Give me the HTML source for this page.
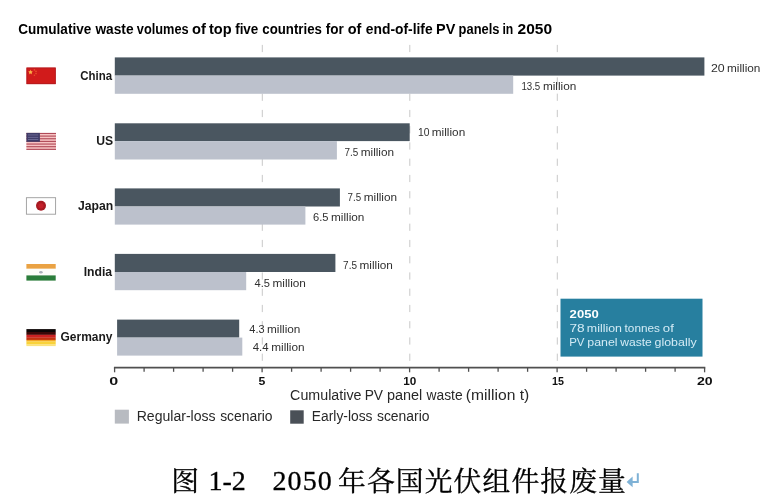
<!DOCTYPE html>
<html>
<head>
<meta charset="utf-8">
<title>图 1-2 2050 年各国光伏组件报废量</title>
<style>
html,body{margin:0;padding:0;background:#fff;}
body{width:772px;height:504px;overflow:hidden;}
svg{display:block;}
.s{font-family:"Liberation Sans",sans-serif;}
.b{font-weight:bold;}
.v{font-size:11.5px;fill:#303030;}
.c{font-size:13.5px;font-weight:bold;fill:#1a1a1a;}
.t{font-size:10.5px;font-weight:bold;fill:#111;}
.cap{font-family:"Liberation Serif","Noto Serif CJK SC",serif;font-size:28.9px;fill:#000;stroke:#000;stroke-width:0.3px;}
</style>
</head>
<body>
<svg width="772" height="504" viewBox="0 0 772 504">
<rect width="772" height="504" fill="#ffffff"/>

<!-- title -->
<g class="s">
<text x="18.17" y="34.3" font-size="14" font-weight="bold" fill="#000" textLength="73.10" lengthAdjust="spacingAndGlyphs">Cumulative</text>
<text x="95.41" y="34.3" font-size="14" font-weight="bold" fill="#000" textLength="38.17" lengthAdjust="spacingAndGlyphs">waste</text>
<text x="136.87" y="34.3" font-size="14" font-weight="bold" fill="#000" textLength="51.81" lengthAdjust="spacingAndGlyphs">volumes</text>
<text x="191.95" y="34.3" font-size="14" font-weight="bold" fill="#000" textLength="13.88" lengthAdjust="spacingAndGlyphs">of</text>
<text x="209.00" y="34.3" font-size="14" font-weight="bold" fill="#000" textLength="22.61" lengthAdjust="spacingAndGlyphs">top</text>
<text x="235.16" y="34.3" font-size="14" font-weight="bold" fill="#000" textLength="23.17" lengthAdjust="spacingAndGlyphs">five</text>
<text x="262.32" y="34.3" font-size="14" font-weight="bold" fill="#000" textLength="59.54" lengthAdjust="spacingAndGlyphs">countries</text>
<text x="325.75" y="34.3" font-size="14" font-weight="bold" fill="#000" textLength="18.05" lengthAdjust="spacingAndGlyphs">for</text>
<text x="347.76" y="34.3" font-size="14" font-weight="bold" fill="#000" textLength="13.67" lengthAdjust="spacingAndGlyphs">of</text>
<text x="365.79" y="34.3" font-size="14" font-weight="bold" fill="#000" textLength="66.88" lengthAdjust="spacingAndGlyphs">end-of-life</text>
<text x="436.13" y="34.3" font-size="14" font-weight="bold" fill="#000" textLength="19.25" lengthAdjust="spacingAndGlyphs">PV</text>
<text x="458.58" y="34.3" font-size="14" font-weight="bold" fill="#000" textLength="40.86" lengthAdjust="spacingAndGlyphs">panels</text>
<text x="502.43" y="34.3" font-size="14" font-weight="bold" fill="#000" textLength="10.85" lengthAdjust="spacingAndGlyphs">in</text>
<text x="517.55" y="34.3" font-size="14" font-weight="bold" fill="#000" textLength="34.57" lengthAdjust="spacingAndGlyphs">2050</text>
</g>

<!-- gridlines -->
<g stroke="#c8c8c8" stroke-width="1" stroke-dasharray="7.2 9.05" fill="none">
<line x1="262.3" y1="44.9" x2="262.3" y2="367"/>
<line x1="409.8" y1="44.9" x2="409.8" y2="367"/>
<line x1="557.3" y1="44.9" x2="557.3" y2="367"/>
</g>

<!-- bars -->
<g>
<rect x="114.8" y="57.4" width="589.6" height="18.2" fill="#4a5660"/>
<rect x="114.8" y="75.6" width="398.4" height="18.2" fill="#bcc1cc"/>

<rect x="114.8" y="123.3" width="294.9" height="17.8" fill="#4a5660"/>
<rect x="114.8" y="141.1" width="222.1" height="18.4" fill="#bcc1cc"/>

<rect x="114.8" y="188.4" width="225.1" height="18.1" fill="#4a5660"/>
<rect x="114.8" y="206.5" width="190.6" height="18.1" fill="#bcc1cc"/>

<rect x="114.8" y="253.9" width="220.6" height="18.1" fill="#4a5660"/>
<rect x="114.8" y="272" width="131.4" height="18.2" fill="#bcc1cc"/>

<rect x="117.1" y="319.6" width="122.1" height="18" fill="#4a5660"/>
<rect x="117.1" y="337.6" width="125.2" height="18" fill="#bcc1cc"/>
</g>

<!-- flags -->
<g>
<!-- China -->
<rect x="26.5" y="67.6" width="29.2" height="16.5" fill="#d11b1b"/>
<rect x="26.9" y="68" width="28.4" height="15.7" fill="none" stroke="#b01a1e" stroke-width="0.8"/>
<polygon points="30.5,69.6 31.2,71.4 33.1,71.4 31.6,72.6 32.1,74.4 30.5,73.3 28.9,74.4 29.4,72.6 27.9,71.4 29.8,71.4" fill="#f7a23c"/>
<circle cx="30.5" cy="72.1" r="1.3" fill="#fbb04a"/>
<circle cx="34.4" cy="69.9" r="0.8" fill="#e8502c"/>
<circle cx="36" cy="71.4" r="0.8" fill="#e8502c"/>
<circle cx="36" cy="73.6" r="0.8" fill="#e8502c"/>
<circle cx="34.4" cy="75.2" r="0.8" fill="#e8502c"/>
<!-- US -->
<rect x="26.4" y="133" width="29.6" height="16.9" fill="#f7c3c3"/>
<g fill="#b04a58">
<rect x="26.4" y="132.9" width="29.6" height="1.1"/>
<rect x="26.4" y="135.55" width="29.6" height="1.1"/>
<rect x="26.4" y="138.2" width="29.6" height="1.1"/>
<rect x="26.4" y="140.85" width="29.6" height="1.1"/>
<rect x="26.4" y="143.5" width="29.6" height="1.1"/>
<rect x="26.4" y="146.15" width="29.6" height="1.1"/>
<rect x="26.4" y="148.8" width="29.6" height="1.1"/>
</g>
<rect x="26.4" y="132.9" width="13.5" height="8.9" fill="#3f3c68"/>
<g fill="#7d7aa6">
<rect x="28" y="134.6" width="10.3" height="0.7"/>
<rect x="28" y="136.9" width="10.3" height="0.7"/>
<rect x="28" y="139.2" width="10.3" height="0.7"/>
</g>
<!-- Japan -->
<rect x="26.4" y="197.7" width="29.2" height="16.5" fill="#ffffff" stroke="#9c9c9c" stroke-width="0.9"/>
<circle cx="41" cy="205.8" r="5" fill="#a81a22"/>
<circle cx="41" cy="205.8" r="2.6" fill="#c4202a"/>
<!-- India -->
<rect x="26.4" y="264" width="29.3" height="4.8" fill="#eaa244"/>
<rect x="26.4" y="268.8" width="29.3" height="6.6" fill="#fdfdf8"/>
<rect x="26.4" y="275.4" width="29.3" height="5.2" fill="#2b7d3a"/>
<ellipse cx="40.9" cy="272.2" rx="1.8" ry="1.3" fill="#aab0b8"/>
<!-- Germany -->
<rect x="26.4" y="329.1" width="29.3" height="3" fill="#0c0505"/>
<rect x="26.4" y="332" width="29.3" height="2.9" fill="#3a0808"/>
<rect x="26.4" y="334.8" width="29.3" height="3" fill="#cc2222"/>
<rect x="26.4" y="337.7" width="29.3" height="2.3" fill="#c43210"/>
<rect x="26.4" y="339.9" width="29.3" height="1.6" fill="#f2a524"/>
<rect x="26.4" y="341.4" width="29.3" height="3.2" fill="#f9d23a"/>
<rect x="26.4" y="344.5" width="29.3" height="1.6" fill="#fbe37c"/>
</g>

<!-- country labels -->
<g class="s">
<text x="80.29" y="79.7" font-size="13.5" font-weight="bold" fill="#1a1a1a" textLength="31.88" lengthAdjust="spacingAndGlyphs">China</text>
<text x="96.17" y="145.1" font-size="13.5" font-weight="bold" fill="#1a1a1a" textLength="16.92" lengthAdjust="spacingAndGlyphs">US</text>
<text x="77.91" y="210.3" font-size="13.5" font-weight="bold" fill="#1a1a1a" textLength="35.28" lengthAdjust="spacingAndGlyphs">Japan</text>
<text x="83.68" y="275.5" font-size="13.5" font-weight="bold" fill="#1a1a1a" textLength="28.50" lengthAdjust="spacingAndGlyphs">India</text>
<text x="60.57" y="340.9" font-size="13.5" font-weight="bold" fill="#1a1a1a" textLength="51.88" lengthAdjust="spacingAndGlyphs">Germany</text>
</g>

<!-- value labels -->
<g class="s">
<text x="711.00" y="71.7" font-size="11.3" fill="#303030" textLength="13.73" lengthAdjust="spacingAndGlyphs">20</text>
<text x="727.00" y="71.7" font-size="11.8" fill="#303030" textLength="33.41" lengthAdjust="spacingAndGlyphs">million</text>
<text x="521.40" y="89.5" font-size="11.3" fill="#303030" textLength="18.88" lengthAdjust="spacingAndGlyphs">13.5</text>
<text x="542.90" y="89.5" font-size="11.8" fill="#303030" textLength="33.41" lengthAdjust="spacingAndGlyphs">million</text>
<text x="417.95" y="136.0" font-size="11.3" fill="#303030" textLength="11.48" lengthAdjust="spacingAndGlyphs">10</text>
<text x="431.80" y="136.0" font-size="11.8" fill="#303030" textLength="33.41" lengthAdjust="spacingAndGlyphs">million</text>
<text x="344.40" y="156.2" font-size="11.3" fill="#303030" textLength="13.77" lengthAdjust="spacingAndGlyphs">7.5</text>
<text x="360.70" y="156.2" font-size="11.8" fill="#303030" textLength="33.41" lengthAdjust="spacingAndGlyphs">million</text>
<text x="347.61" y="201.0" font-size="11.3" fill="#303030" textLength="13.56" lengthAdjust="spacingAndGlyphs">7.5</text>
<text x="363.70" y="201.0" font-size="11.8" fill="#303030" textLength="33.41" lengthAdjust="spacingAndGlyphs">million</text>
<text x="313.05" y="220.7" font-size="11.3" fill="#303030" textLength="15.47" lengthAdjust="spacingAndGlyphs">6.5</text>
<text x="331.00" y="220.7" font-size="11.8" fill="#303030" textLength="33.41" lengthAdjust="spacingAndGlyphs">million</text>
<text x="343.09" y="268.6" font-size="11.3" fill="#303030" textLength="13.88" lengthAdjust="spacingAndGlyphs">7.5</text>
<text x="359.50" y="268.6" font-size="11.8" fill="#303030" textLength="33.41" lengthAdjust="spacingAndGlyphs">million</text>
<text x="254.60" y="286.9" font-size="11.3" fill="#303030" textLength="15.42" lengthAdjust="spacingAndGlyphs">4.5</text>
<text x="272.50" y="286.9" font-size="11.8" fill="#303030" textLength="33.41" lengthAdjust="spacingAndGlyphs">million</text>
<text x="249.30" y="332.5" font-size="11.3" fill="#303030" textLength="15.26" lengthAdjust="spacingAndGlyphs">4.3</text>
<text x="267.00" y="332.5" font-size="11.8" fill="#303030" textLength="33.41" lengthAdjust="spacingAndGlyphs">million</text>
<text x="252.69" y="351.0" font-size="11.3" fill="#303030" textLength="15.88" lengthAdjust="spacingAndGlyphs">4.4</text>
<text x="271.20" y="351.0" font-size="11.8" fill="#303030" textLength="33.41" lengthAdjust="spacingAndGlyphs">million</text>
</g>

<!-- callout -->
<rect x="560.5" y="298.7" width="142" height="57.9" fill="#277f9f"/>
<g class="s">
<text x="569.62" y="318.4" font-size="11.5" font-weight="bold" fill="#ffffff" textLength="29.11" lengthAdjust="spacingAndGlyphs">2050</text>
<text x="569.40" y="332.1" font-size="11.5" fill="#d3ebf5" textLength="15.22" lengthAdjust="spacingAndGlyphs">78</text>
<text x="586.86" y="332.1" font-size="11.5" fill="#d3ebf5" textLength="35.08" lengthAdjust="spacingAndGlyphs">million</text>
<text x="624.55" y="332.1" font-size="11.5" fill="#d3ebf5" textLength="35.39" lengthAdjust="spacingAndGlyphs">tonnes</text>
<text x="662.88" y="332.1" font-size="11.5" fill="#d3ebf5" textLength="10.98" lengthAdjust="spacingAndGlyphs">of</text>
<text x="569.17" y="346.2" font-size="11.5" fill="#d3ebf5" textLength="15.28" lengthAdjust="spacingAndGlyphs">PV</text>
<text x="587.28" y="346.2" font-size="11.5" fill="#d3ebf5" textLength="30.32" lengthAdjust="spacingAndGlyphs">panel</text>
<text x="620.18" y="346.2" font-size="11.5" fill="#d3ebf5" textLength="31.59" lengthAdjust="spacingAndGlyphs">waste</text>
<text x="654.55" y="346.2" font-size="11.5" fill="#d3ebf5" textLength="42.09" lengthAdjust="spacingAndGlyphs">globally</text>
</g>

<!-- axis -->
<g stroke="#505050" stroke-width="1.7" fill="none">
<line x1="113.9" y1="367.7" x2="705.3" y2="367.7"/>
</g>
<g stroke="#505050" stroke-width="1.3" fill="none">
<line x1="114.6" y1="367.5" x2="114.6" y2="372.3"/>
<line x1="144.1" y1="367.5" x2="144.1" y2="371.8"/>
<line x1="173.6" y1="367.5" x2="173.6" y2="371.8"/>
<line x1="203.1" y1="367.5" x2="203.1" y2="371.8"/>
<line x1="232.6" y1="367.5" x2="232.6" y2="371.8"/>
<line x1="262.1" y1="367.5" x2="262.1" y2="372.3"/>
<line x1="291.6" y1="367.5" x2="291.6" y2="371.8"/>
<line x1="321.1" y1="367.5" x2="321.1" y2="371.8"/>
<line x1="350.6" y1="367.5" x2="350.6" y2="371.8"/>
<line x1="380.1" y1="367.5" x2="380.1" y2="371.8"/>
<line x1="409.6" y1="367.5" x2="409.6" y2="372.3"/>
<line x1="439.1" y1="367.5" x2="439.1" y2="371.8"/>
<line x1="468.6" y1="367.5" x2="468.6" y2="371.8"/>
<line x1="498.1" y1="367.5" x2="498.1" y2="371.8"/>
<line x1="527.6" y1="367.5" x2="527.6" y2="371.8"/>
<line x1="557.1" y1="367.5" x2="557.1" y2="372.3"/>
<line x1="586.6" y1="367.5" x2="586.6" y2="371.8"/>
<line x1="616.1" y1="367.5" x2="616.1" y2="371.8"/>
<line x1="645.6" y1="367.5" x2="645.6" y2="371.8"/>
<line x1="675.1" y1="367.5" x2="675.1" y2="371.8"/>
<line x1="704.6" y1="367.5" x2="704.6" y2="372.3"/>
</g>
<g class="s">
<text x="109.20" y="384.5" font-size="10.5" font-weight="bold" fill="#111" textLength="8.95" lengthAdjust="spacingAndGlyphs">0</text>
<text x="258.58" y="384.5" font-size="10.5" font-weight="bold" fill="#111" textLength="6.83" lengthAdjust="spacingAndGlyphs">5</text>
<text x="403.26" y="384.5" font-size="10.5" font-weight="bold" fill="#111" textLength="13.08" lengthAdjust="spacingAndGlyphs">10</text>
<text x="552.13" y="384.5" font-size="10.5" font-weight="bold" fill="#111" textLength="11.92" lengthAdjust="spacingAndGlyphs">15</text>
<text x="696.90" y="384.5" font-size="10.5" font-weight="bold" fill="#111" textLength="15.67" lengthAdjust="spacingAndGlyphs">20</text>
</g>
<g class="s">
<text x="290.12" y="400.3" font-size="14" fill="#282828" textLength="71.34" lengthAdjust="spacingAndGlyphs">Cumulative</text>
<text x="364.64" y="400.3" font-size="14" fill="#282828" textLength="18.39" lengthAdjust="spacingAndGlyphs">PV</text>
<text x="386.94" y="400.3" font-size="14" fill="#282828" textLength="35.32" lengthAdjust="spacingAndGlyphs">panel</text>
<text x="426.52" y="400.3" font-size="14" fill="#282828" textLength="36.09" lengthAdjust="spacingAndGlyphs">waste</text>
<text x="465.88" y="400.3" font-size="14" fill="#282828" textLength="63.44" lengthAdjust="spacingAndGlyphs">(million t)</text>
</g>

<!-- legend -->
<rect x="114.8" y="409.7" width="14.1" height="13.9" fill="#b8bbc1"/>
<g class="s">
<text x="136.72" y="420.7" font-size="14" fill="#282828" textLength="78.88" lengthAdjust="spacingAndGlyphs">Regular-loss</text>
<text x="220.19" y="420.7" font-size="14" fill="#282828" textLength="52.34" lengthAdjust="spacingAndGlyphs">scenario</text>
</g>
<rect x="290.2" y="410.3" width="13.5" height="13.4" fill="#4a5057"/>
<g class="s">
<text x="311.84" y="420.7" font-size="14" fill="#282828" textLength="60.62" lengthAdjust="spacingAndGlyphs">Early-loss</text>
<text x="376.98" y="420.7" font-size="14" fill="#282828" textLength="52.54" lengthAdjust="spacingAndGlyphs">scenario</text>
</g>

<!-- caption -->
<g class="cap">
<text x="171.3" y="491.0" style="font-size:27.8px">图</text>
<text x="208.4" y="490.4" style="font-size:28px">1-2</text>
<text x="272.5" y="490.4" style="font-size:28px" textLength="59.2" lengthAdjust="spacing">2050</text>
<text x="338.0" y="491.0" style="font-size:27.8px;letter-spacing:1.1px">年各国光伏组件报废量</text>
</g>
<path d="M637.8 473.2V481.9H629" fill="none" stroke="#7fb2d6" stroke-width="2"/>
<path d="M626.6 481.9L632.6 476.6V487.2Z" fill="#7fb2d6"/>
</svg>
</body>
</html>
